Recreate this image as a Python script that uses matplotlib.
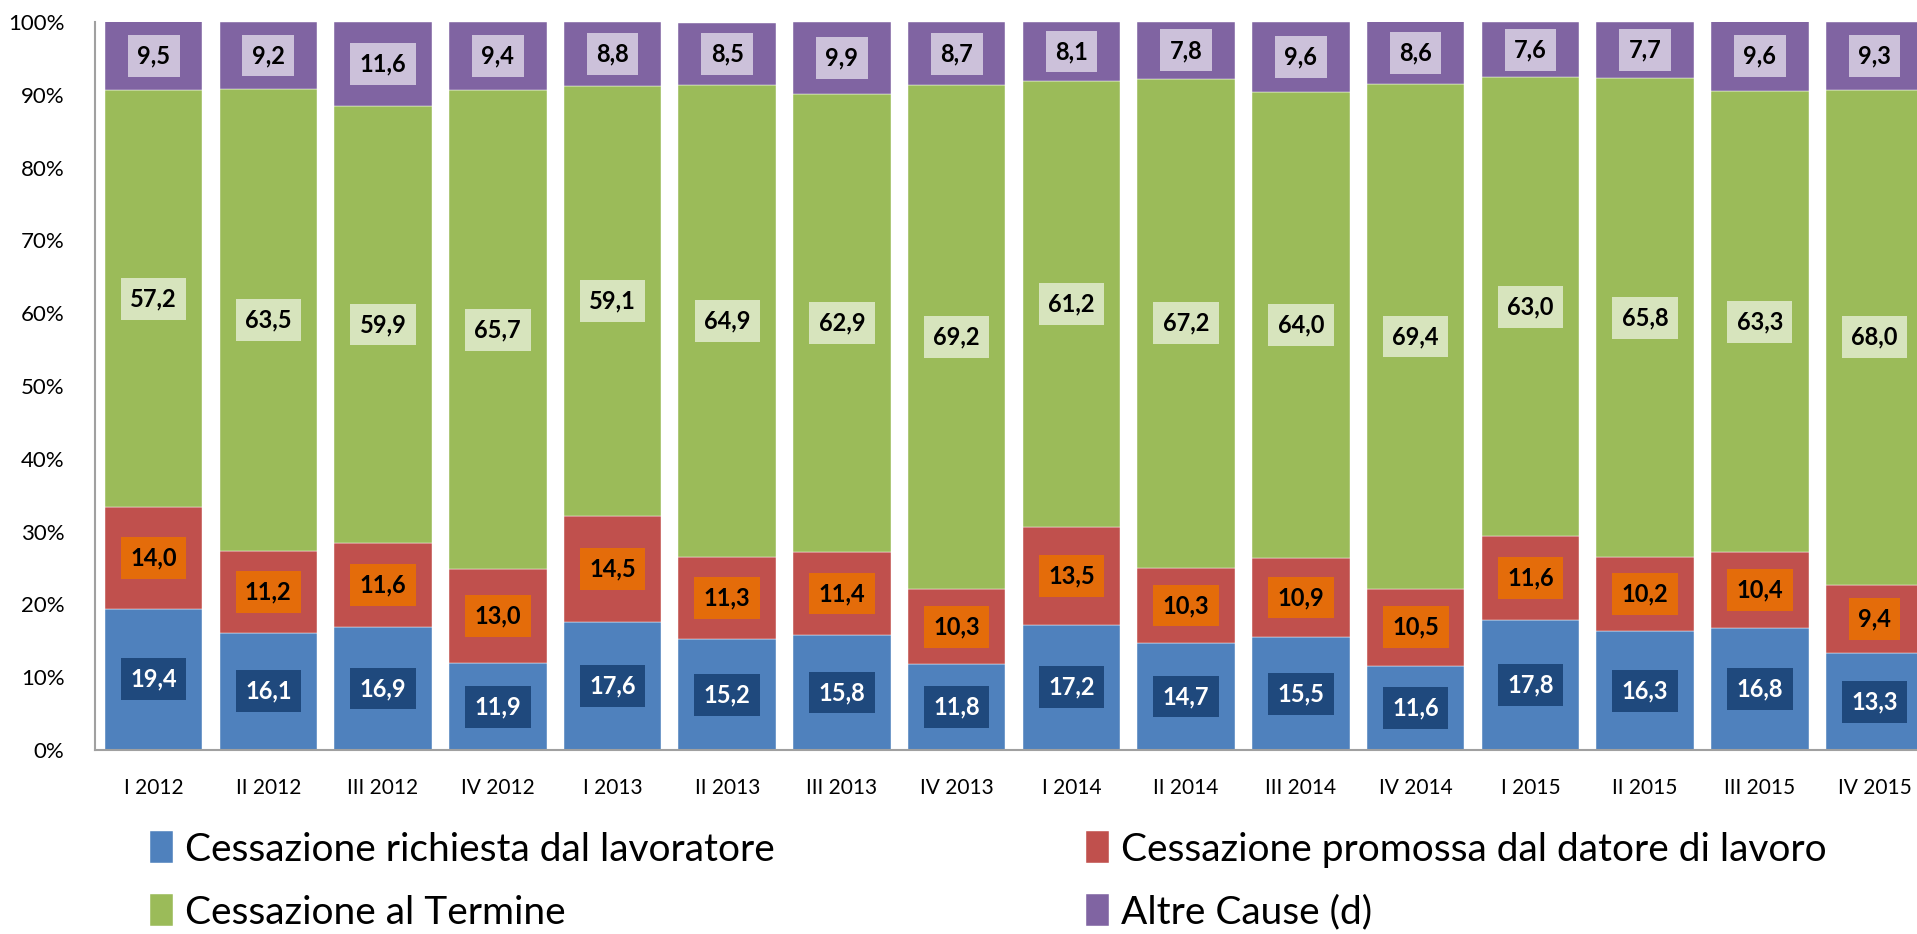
import matplotlib.pyplot as plt
import numpy as np

plt.rcParams['font.family'] = ['Lato', 'DejaVu Sans']

# dati (percentuali)
trimestri = ["I 2012", "II 2012", "III 2012", "IV 2012",
             "I 2013", "II 2013", "III 2013", "IV 2013",
             "I 2014", "II 2014", "III 2014", "IV 2014",
             "I 2015", "II 2015", "III 2015", "IV 2015"]
lavoratore = [19.4, 16.1, 16.9, 11.9, 17.6, 15.2, 15.8, 11.8,
              17.2, 14.7, 15.5, 11.6, 17.8, 16.3, 16.8, 13.3]
datore = [14.0, 11.2, 11.6, 13.0, 14.5, 11.3, 11.4, 10.3,
          13.5, 10.3, 10.9, 10.5, 11.6, 10.2, 10.4, 9.4]
termine = [57.2, 63.5, 59.9, 65.7, 59.1, 64.9, 62.9, 69.2,
           61.2, 67.2, 64.0, 69.4, 63.0, 65.8, 63.3, 68.0]
altre = [9.5, 9.2, 11.6, 9.4, 8.8, 8.5, 9.9, 8.7,
         8.1, 7.8, 9.6, 8.6, 7.6, 7.7, 9.6, 9.3]

serie = [
    ("Cessazione richiesta dal lavoratore", lavoratore, "#4F81BD", "#1F497D", "white"),
    ("Cessazione promossa dal datore di lavoro", datore, "#C0504D", "#E46C0A", "black"),
    ("Cessazione al Termine", termine, "#9BBB59", "#D7E4BD", "black"),
    ("Altre Cause (d)", altre, "#8064A2", "#CCC1DA", "black"),
]

fig = plt.figure(figsize=(19.17, 9.34), dpi=100)
ax = fig.add_axes([0.0496, 0.197, 0.9504, 0.7794])

x = np.arange(len(trimestri))
base = np.zeros(len(trimestri))
barre = []
for nome, val, col, boxcol, txtcol in serie:
    val = np.array(val)
    b_ = ax.bar(x, val, 0.85, bottom=base, color=col, label=nome,
                edgecolor="white", linewidth=0.3)
    barre.append(b_)
    for xi, b, v in zip(x, base, val):
        ax.text(xi, b + v / 2, f"{v:.1f}".replace(".", ","),
                ha="center", va="center", fontsize=17, fontweight="bold",
                color=txtcol,
                bbox=dict(boxstyle="square,pad=0.4", fc=boxcol, ec="none"))
    base += val

ax.set_ylim(0, 100)
ax.set_xlim(-0.51, 15.37)
ax.set_yticks(np.arange(0, 101, 10))
ax.set_yticklabels([f"{v}%" for v in range(0, 101, 10)], fontsize=16)
ax.set_xticks(x)
ax.set_xticklabels(trimestri, fontsize=15)
ax.tick_params(axis="x", length=0, pad=20)
ax.tick_params(axis="y", length=0, pad=22)
for s in ["top", "right"]:
    ax.spines[s].set_visible(False)
for s in ["left", "bottom"]:
    ax.spines[s].set_color("#A0A0A0")
    ax.spines[s].set_linewidth(1.5)

# ordine per righe: blu, rosso / verde, viola
ordine = [barre[0], barre[2], barre[1], barre[3]]
fig.legend(ordine, [b.get_label() for b in ordine],
           loc="lower left", bbox_to_anchor=(0.06, -0.034), ncol=2,
           fontsize=28, frameon=False, handlelength=0.6, handleheight=0.9,
           handletextpad=0.3, columnspacing=8.0, labelspacing=0.68)

fig.savefig("out.png", dpi=100)
